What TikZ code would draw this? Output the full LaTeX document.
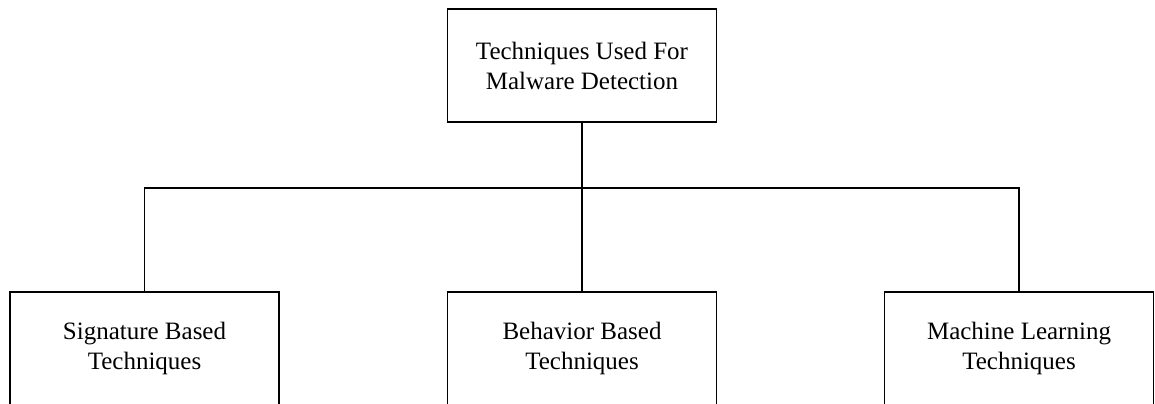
\documentclass[tikz,border=0pt]{standalone}
\usepackage{fontspec}
\setmainfont{Liberation Serif}
\begin{document}
\begin{tikzpicture}[x=0.5pt,y=-0.5pt,
  box/.style={draw=black, line width=0.8pt, fill=white, minimum width=134.5pt, minimum height=56.5pt,
    align=center, inner sep=0pt, font=\fontsize{12.5pt}{15pt}\selectfont},
  link/.style={draw=black, line width=0.8pt}]
\useasboundingbox (0,0) rectangle (1155,403);
\begin{scope}
\clip (0,0) rectangle (1155,403);
\node[box] (top) at (582,65.5) {Techniques Used For\\Malware Detection};
\node[box] (sig) at (144.5,348.5) {Signature Based\\Techniques};
\node[box] (beh) at (582,348.5) {Behavior Based\\Techniques};
\node[box] (ml) at (1019,348.5) {Machine Learning\\Techniques};
\coordinate (bus) at (582,188);
\draw[link] (top.south) -- (beh.north);
\draw[link] (sig.north) |- (bus) -| (ml.north);
\end{scope}
\end{tikzpicture}
\end{document}
